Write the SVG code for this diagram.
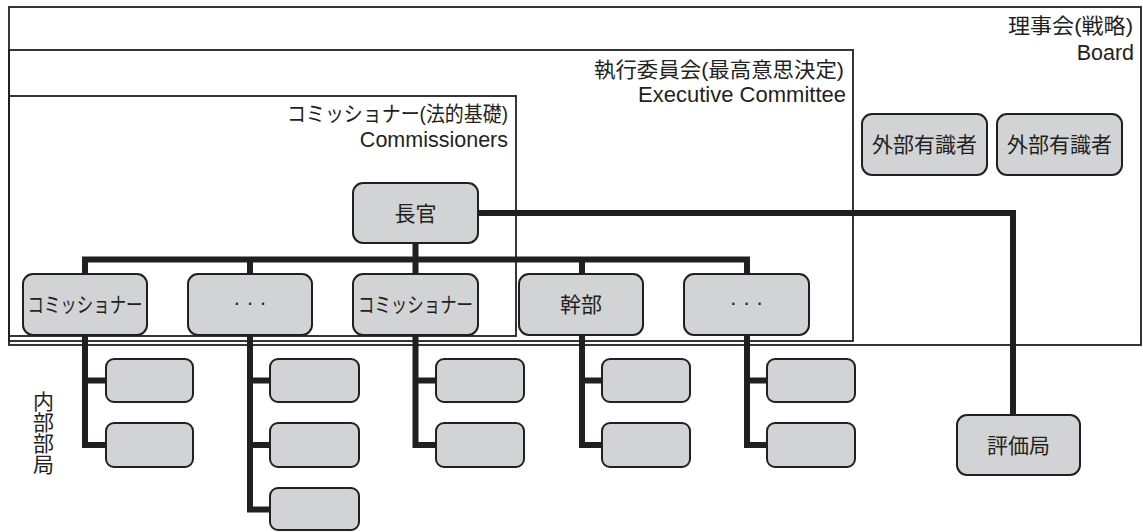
<svg xmlns="http://www.w3.org/2000/svg" width="1143" height="532" viewBox="0 0 1143 532">
<style>
.box{fill:none;stroke:#231f20;stroke-width:1.8}
.node{fill:#d1d3d4;stroke:#231f20;stroke-width:2}
.conn{fill:none;stroke:#231f20;stroke-width:6;stroke-linejoin:miter;stroke-linecap:butt}
.t{font-family:"Liberation Sans","Noto Sans CJK JP",sans-serif;font-size:21px;fill:#231f20}
.e{font-family:"Liberation Sans",Arial,sans-serif;font-size:21.5px;fill:#231f20}
.c{text-anchor:middle}
.r{text-anchor:end}
</style>
<rect width="1143" height="532" fill="#ffffff"/>
<g id="board">
<rect class="box" x="9" y="7" width="1132" height="338"/>
<text class="t r" x="1133" y="33" textLength="125" lengthAdjust="spacingAndGlyphs">理事会(戦略)</text>
<text class="e r" x="1134" y="60">Board</text>
</g>
<g id="executive-committee">
<rect class="box" x="9" y="50" width="844" height="291"/>
<text class="t r" x="844" y="77" textLength="250" lengthAdjust="spacingAndGlyphs">執行委員会(最高意思決定)</text>
<text class="e r" x="846" y="102" textLength="208" lengthAdjust="spacingAndGlyphs">Executive Committee</text>
</g>
<g id="commissioners">
<rect class="box" x="9" y="96" width="507" height="240"/>
<text class="t r" x="508" y="121" textLength="221" lengthAdjust="spacingAndGlyphs">コミッショナー(法的基礎)</text>
<text class="e r" x="508" y="147">Commissioners</text>
</g>
<g id="connectors">
<path class="conn" d="M85,274 V259.5 H747 V274"/>
<path class="conn" d="M250,259.5 V274"/>
<path class="conn" d="M415.5,243 V274"/>
<path class="conn" d="M582,259.5 V274"/>
<path class="conn" d="M478,213 H1013 V415"/>
<path class="conn" d="M85,335 V445 H106 M85,380.5 H106"/>
<path class="conn" d="M250,335 V509.5 H270 M250,380.5 H270 M250,445 H270"/>
<path class="conn" d="M415.5,335 V445 H436 M415.5,380.5 H436"/>
<path class="conn" d="M582,335 V445 H602 M582,380.5 H602"/>
<path class="conn" d="M747,335 V445 H767 M747,380.5 H767"/>
</g>
<g id="n-chokan">
<rect class="node" x="353" y="183" width="125" height="60" rx="10"/>
<text class="t c" x="415.5" y="220.5">長官</text>
</g>
<g id="n-gaibu1">
<rect class="node" x="862" y="114" width="125" height="61" rx="10"/>
<text class="t c" x="924.5" y="152">外部有識者</text>
</g>
<g id="n-gaibu2">
<rect class="node" x="997" y="114" width="125" height="61" rx="10"/>
<text class="t c" x="1059.5" y="152">外部有識者</text>
</g>
<g id="n-comm1">
<rect class="node" x="23" y="274" width="124" height="61" rx="10"/>
<text class="t c" x="85" y="312" textLength="115" lengthAdjust="spacingAndGlyphs">コミッショナー</text>
</g>
<g id="n-dots1">
<rect class="node" x="188" y="274" width="124" height="61" rx="10"/>
<text class="e c" x="250" y="310">· · ·</text>
</g>
<g id="n-comm2">
<rect class="node" x="353" y="274" width="125" height="61" rx="10"/>
<text class="t c" x="415.5" y="312" textLength="115" lengthAdjust="spacingAndGlyphs">コミッショナー</text>
</g>
<g id="n-kanbu">
<rect class="node" x="519" y="274" width="124" height="61" rx="10"/>
<text class="t c" x="581" y="312">幹部</text>
</g>
<g id="n-dots2">
<rect class="node" x="684" y="274" width="125" height="61" rx="10"/>
<text class="e c" x="746.5" y="310">· · ·</text>
</g>
<g id="n-hyokakyoku">
<rect class="node" x="957" y="415" width="123" height="60" rx="10"/>
<text class="t c" x="1018.5" y="452.5">評価局</text>
</g>
<g id="sub-col1">
<rect class="node" x="106" y="359" width="87" height="43" rx="8"/>
<rect class="node" x="106" y="423" width="87" height="44" rx="8"/>
</g>
<g id="sub-col2">
<rect class="node" x="270" y="359" width="89" height="43" rx="8"/>
<rect class="node" x="270" y="423" width="89" height="44" rx="8"/>
<rect class="node" x="270" y="488" width="89" height="42" rx="8"/>
</g>
<g id="sub-col3">
<rect class="node" x="436" y="359" width="88" height="43" rx="8"/>
<rect class="node" x="436" y="423" width="88" height="44" rx="8"/>
</g>
<g id="sub-col4">
<rect class="node" x="602" y="359" width="88" height="43" rx="8"/>
<rect class="node" x="602" y="423" width="88" height="44" rx="8"/>
</g>
<g id="sub-col5">
<rect class="node" x="767" y="359" width="88" height="43" rx="8"/>
<rect class="node" x="767" y="423" width="88" height="44" rx="8"/>
</g>
<g id="label-naibu">
<text class="t" x="42" y="391" style="writing-mode:vertical-rl" font-size="20">内部部局</text>
</g>
</svg>
